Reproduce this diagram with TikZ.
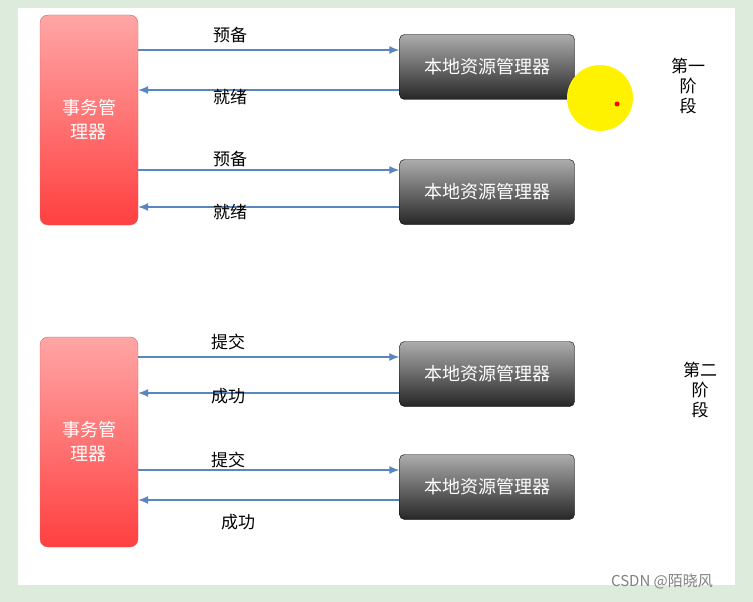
\documentclass[tikz,border=0pt]{standalone}
\usepackage{fontspec}
\setmainfont{Noto Sans CJK SC}
\usetikzlibrary{arrows.meta}
\definecolor{bgg}{HTML}{DDEBDD}
\definecolor{arr}{HTML}{5A86C0}
\begin{document}
\begin{tikzpicture}[x=1pt,y=-1pt,
 tm/.style={draw=red!70!black!60,rounded corners=8pt,top color=red!35,bottom color=red!75!white,minimum width=98pt,minimum height=210pt,text=white,font=\fontsize{18}{24}\selectfont,align=center,inner sep=0pt},
 rm/.style={draw=black,rounded corners=5pt,top color=gray!65,bottom color=black!85,minimum width=175pt,minimum height=65pt,text=white,font=\fontsize{18}{22}\selectfont},
 ar/.style={draw=arr,line width=1.3pt,-{Latex[length=10pt,width=8pt]}},
 lb/.style={font=\fontsize{17}{20}\selectfont,text=black}]
\fill[bgg] (0,0) rectangle (753,602);
\fill[white] (18,8) rectangle (735,585);
\node[tm] (t1) at (89,120) {事务管\\理器};
\node[tm] (t2) at (89,442) {事务管\\理器};
\node[rm] (r1) at (487,67) {本地资源管理器};
\node[rm] (r2) at (487,192) {本地资源管理器};
\node[rm] (r3) at (487,374) {本地资源管理器};
\node[rm] (r4) at (487,487) {本地资源管理器};
\draw[ar] (t1.east|-0,50) -- (r1.west|-0,50);
\draw[ar] (r1.west|-0,90) -- (t1.east|-0,90);
\draw[ar] (t1.east|-0,170) -- (r2.west|-0,170);
\draw[ar] (r2.west|-0,207) -- (t1.east|-0,207);
\draw[ar] (t2.east|-0,357) -- (r3.west|-0,357);
\draw[ar] (r3.west|-0,393) -- (t2.east|-0,393);
\draw[ar] (t2.east|-0,470) -- (r4.west|-0,470);
\draw[ar] (r4.west|-0,500) -- (t2.east|-0,500);
\node[lb] (l1) at (230,35) {预备};
\node[lb] (l2) at (230,97) {就绪};
\node[lb] (l3) at (230,159) {预备};
\node[lb] (l4) at (230,212) {就绪};
\node[lb] (l5) at (228,342) {提交};
\node[lb] (l6) at (228,396) {成功};
\node[lb] (l7) at (228,460) {提交};
\node[lb] (l8) at (238,522) {成功};
\fill[yellow] (600,98) circle (33);
\fill[red] (617,104) circle (2.5);
\node[lb,align=center] (p1) at (688,86) {第一\\阶\\段};
\node[lb,align=center] (p2) at (700,390) {第二\\阶\\段};
\node[font=\fontsize{15}{18}\selectfont,text=gray] (w) at (662,582) {CSDN @陌晓风};
\end{tikzpicture}
\end{document}
